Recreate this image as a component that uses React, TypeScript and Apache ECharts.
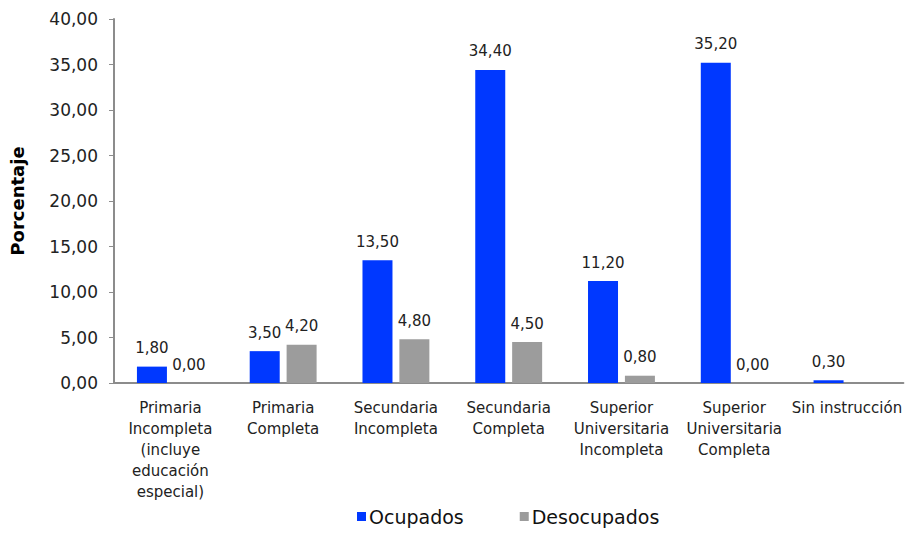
import React, { useEffect, useRef } from "react";
import * as echarts from "echarts";

const categories = [
  "Primaria\nIncompleta\n(incluye\neducación\nespecial)",
  "Primaria\nCompleta",
  "Secundaria\nIncompleta",
  "Secundaria\nCompleta",
  "Superior\nUniversitaria\nIncompleta",
  "Superior\nUniversitaria\nCompleta",
  "Sin instrucción",
];
const ocupados = [1.8, 3.5, 13.5, 34.4, 11.2, 35.2, 0.3];
const desocupados: (number | null)[] = [0.0, 4.2, 4.8, 4.5, 0.8, 0.0, null];

const FONT = "DejaVu Sans";
const fmt = (v: number) => v.toFixed(2).replace(".", ",");

export default function App() {
  const ref = useRef<HTMLDivElement>(null);
  useEffect(() => {
    if (!ref.current) return;
    const chart = echarts.init(ref.current, undefined, { renderer: "svg" });
    const labelStyle = {
      show: true,
      position: "top" as const,
      distance: 11,
      fontFamily: FONT,
      fontSize: 15,
      color: "#222",
      formatter: (p: any) => fmt(p.value),
    };
    chart.setOption({
      animation: false,
      backgroundColor: "#fff",
      textStyle: { fontFamily: FONT },
      grid: { left: 113, right: 0, top: 19, bottom: 150, containLabel: false },
      legend: {
        bottom: 2,
        left: 352,
        itemWidth: 9,
        itemHeight: 9,
        itemGap: 56,
        icon: "rect",
        textStyle: { fontFamily: FONT, fontSize: 19, color: "#111", padding: [0, 0, 0, -2] },
        data: ["Ocupados", "Desocupados"],
      },
      xAxis: {
        type: "category",
        data: categories,
        axisLine: { lineStyle: { color: "#8c8c8c", width: 2 } },
        axisTick: { show: false },
        axisLabel: {
          interval: 0,
          margin: 14,
          fontFamily: FONT,
          fontSize: 15,
          lineHeight: 21,
          color: "#222",
          align: "center",
        },
      },
      yAxis: {
        type: "value",
        min: 0,
        max: 40,
        interval: 5,
        name: "Porcentaje",
        nameLocation: "middle",
        nameRotate: 90,
        nameGap: 88,
        nameTextStyle: { fontFamily: FONT, fontSize: 18, fontWeight: "bold", color: "#000" },
        axisLine: { show: true, lineStyle: { color: "#8c8c8c", width: 2 } },
        axisTick: { show: true, length: 5, lineStyle: { color: "#8c8c8c", width: 1 } },
        splitLine: { show: false },
        axisLabel: {
          fontFamily: FONT,
          fontSize: 17,
          color: "#222",
          margin: 16,
          formatter: (v: number) => fmt(v),
        },
      },
      series: [
        {
          name: "Ocupados",
          type: "bar",
          data: ocupados,
          barWidth: 30,
          barGap: "23%",
          itemStyle: { color: "#0038FF" },
          label: labelStyle,
        },
        {
          name: "Desocupados",
          type: "bar",
          data: desocupados,
          barWidth: 30,
          itemStyle: { color: "#9C9C9C" },
          label: labelStyle,
        },
      ],
    });
    return () => chart.dispose();
  }, []);
  return (
    <div
      ref={ref}
      style={{ position: "fixed", left: 0, top: 0, width: 905, height: 533 }}
    />
  );
}
